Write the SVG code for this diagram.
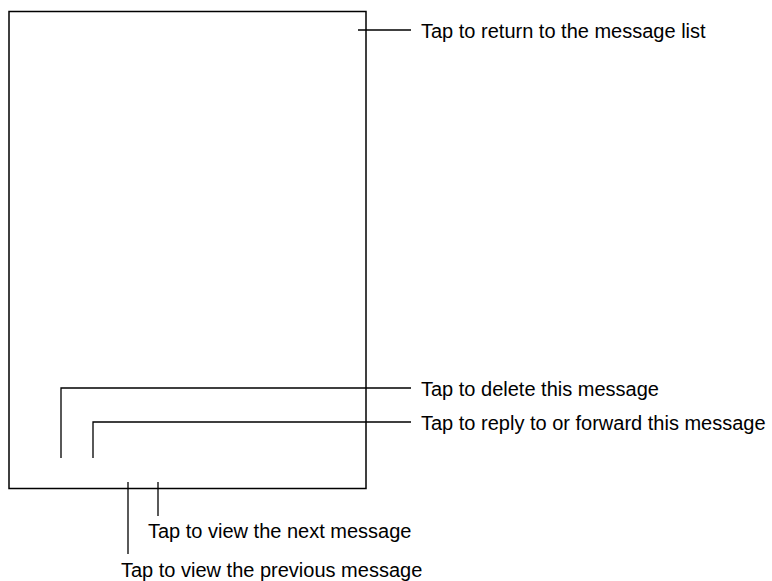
<svg xmlns="http://www.w3.org/2000/svg" width="772" height="581" viewBox="0 0 772 581">
<style>
.box{fill:none;stroke:#000;stroke-width:1.5}
.ln{fill:none;stroke:#000;stroke-width:1.3}
.t{font-family:"Liberation Sans",Arial,sans-serif;font-size:20px;fill:#000}
</style>
<rect width="772" height="581" fill="#fff"/>
<g id="screen"><rect class="box" x="9" y="11.5" width="357" height="477"/></g>
<g id="connectors">
<path class="ln" d="M358 30H411"/>
<path class="ln" d="M61 458V388H411"/>
<path class="ln" d="M93 458V422H411"/>
<path class="ln" d="M128 482V554"/>
<path class="ln" d="M158 482V516"/>
</g>
<g id="lbl-return"><text class="t" x="421" y="37.5">Tap to return to the message list</text></g>
<g id="lbl-delete"><text class="t" x="421" y="395.5">Tap to delete this message</text></g>
<g id="lbl-reply"><text class="t" x="421" y="429.5">Tap to reply to or forward this message</text></g>
<g id="lbl-next"><text class="t" x="148" y="538">Tap to view the next message</text></g>
<g id="lbl-prev"><text class="t" x="121" y="577">Tap to view the previous message</text></g>
</svg>
